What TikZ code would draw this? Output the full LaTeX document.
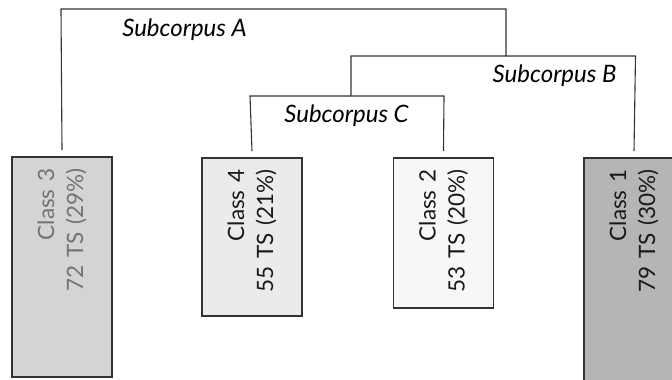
\documentclass[tikz,border=0pt]{standalone}
\usepackage{fontspec}
\setmainfont{Lato}
\begin{document}
\begin{tikzpicture}[x=1pt,y=-1pt,
  conn/.style={draw=black!80, line width=1.1pt},
  cls/.style={draw=black!80, line width=1.5pt, rotate=90, anchor=east,
    minimum height=100pt, inner xsep=12pt, inner ysep=0pt, align=right,
    font=\fontsize{22.5}{29}\selectfont},
  sub/.style={font=\fontsize{24}{28}\selectfont\itshape, anchor=base}]
\useasboundingbox (0,0) rectangle (672,380);
\clip (0,0) rectangle (672,380);
\node[cls, fill=black!17, text=black!55, minimum width=220pt, text width=196pt] (c3) at (62,156) {Class 3\\72 TS (29\%)};
\node[cls, fill=black!8, text=black!90, minimum width=158pt, text width=134pt] (c4) at (252,157) {Class 4\\55 TS (21\%)};
\node[cls, fill=black!3, text=black!90, minimum width=150pt, text width=126pt] (c2) at (443.5,157) {Class 2\\53 TS (20\%)};
\node[cls, fill=black!29, text=black!90, minimum width=260pt, text width=236pt] (c1) at (634,157) {Class 1\\79 TS (30\%)};
\coordinate (Al) at (61,9);
\coordinate (Ar) at (506,9);
\coordinate (Bl) at (351,56);
\coordinate (Br) at (635.5,56);
\coordinate (Cl) at (250,96);
\coordinate (Cr) at (444,96);
\draw[conn] ([yshift=6pt]c3.east) -- (Al) -- (Ar) -- (Ar |- Bl);
\draw[conn] (Bl |- Cl) -- (Bl) -- (Br) -- ([yshift=6pt]c1.east);
\draw[conn] ([yshift=6pt]c4.east) -- (Cl) -- (Cr) -- ([yshift=6pt]c2.east);
\node[sub] (sA) at (184.5,36) {Subcorpus A};
\node[sub, anchor=base east] (sB) at (620,82) {Subcorpus B};
\node[sub] (sC) at (346.5,122) {Subcorpus C};
\end{tikzpicture}
\end{document}
